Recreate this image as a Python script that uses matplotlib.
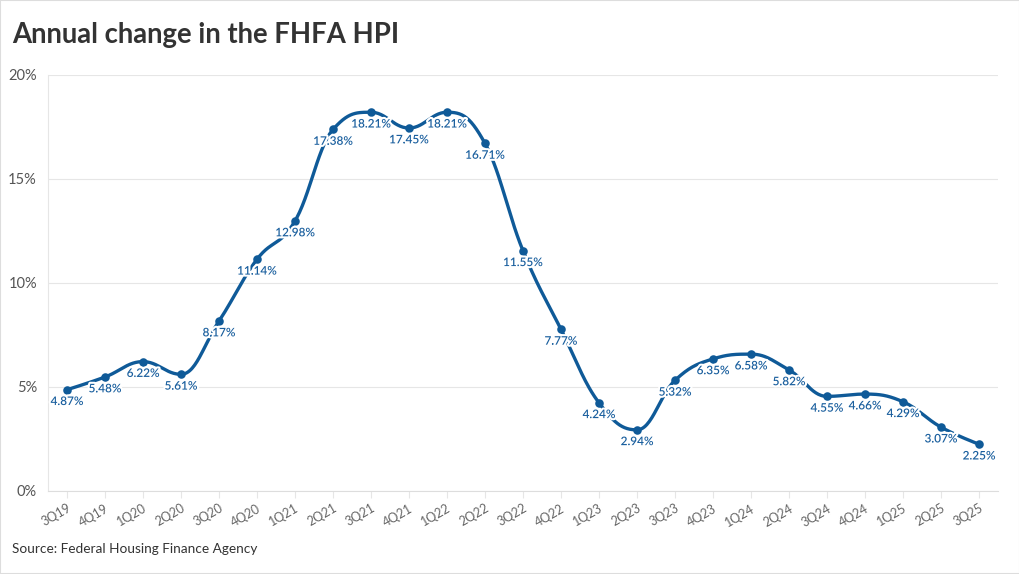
import matplotlib.pyplot as plt
import matplotlib.patheffects as pe
import numpy as np
from matplotlib.patches import Rectangle

quarters = ["3Q19", "4Q19", "1Q20", "2Q20", "3Q20", "4Q20", "1Q21", "2Q21", "3Q21",
            "4Q21", "1Q22", "2Q22", "3Q22", "4Q22", "1Q23", "2Q23", "3Q23", "4Q23",
            "1Q24", "2Q24", "3Q24", "4Q24", "1Q25", "2Q25", "3Q25"]
hpi_change = [4.87, 5.48, 6.22, 5.61, 8.17, 11.14, 12.98, 17.38, 18.21, 17.45, 18.21,
              16.71, 11.55, 7.77, 4.24, 2.94, 5.32, 6.35, 6.58, 5.82, 4.55, 4.66,
              4.29, 3.07, 2.25]
y_ticks = [0, 5, 10, 15, 20]

BLUE = "#0f5a98"
LABEL_BLUE = "#1a5f9e"
GRID = "#e6e6e6"
TEXT = "#333333"

plt.rcParams["font.family"] = ["Lato", "DejaVu Sans"]


def spline_path(xs, ys, smoothing=1.5, n=30):
    # bezier spline with control points like the usual web chart "spline" type
    denom = smoothing + 1
    m = len(xs)
    left = [None] * m
    right = [None] * m
    for i in range(m):
        px, py = xs[i], ys[i]
        if i == 0 or i == m - 1:
            left[i] = (px, py)
            right[i] = (px, py)
            continue
        lx, ly = xs[i - 1], ys[i - 1]
        nx, ny = xs[i + 1], ys[i + 1]
        lcx = (smoothing * px + lx) / denom
        lcy = (smoothing * py + ly) / denom
        rcx = (smoothing * px + nx) / denom
        rcy = (smoothing * py + ny) / denom
        if rcx != lcx:
            corr = (rcy - lcy) * (rcx - px) / (rcx - lcx) + py - rcy
            lcy += corr
            rcy += corr
        if lcy > ly and lcy > py:
            lcy = max(ly, py)
            rcy = 2 * py - lcy
        elif lcy < ly and lcy < py:
            lcy = min(ly, py)
            rcy = 2 * py - lcy
        if rcy > ny and rcy > py:
            rcy = max(ny, py)
            lcy = 2 * py - rcy
        elif rcy < ny and rcy < py:
            rcy = min(ny, py)
            lcy = 2 * py - rcy
        left[i] = (lcx, lcy)
        right[i] = (rcx, rcy)
    out_x, out_y = [], []
    t = np.linspace(0, 1, n)
    for i in range(m - 1):
        p0 = np.array([xs[i], ys[i]])
        p1 = np.array(right[i])
        p2 = np.array(left[i + 1])
        p3 = np.array([xs[i + 1], ys[i + 1]])
        seg = ((1 - t) ** 3)[:, None] * p0 + (3 * (1 - t) ** 2 * t)[:, None] * p1 \
            + (3 * (1 - t) * t ** 2)[:, None] * p2 + (t ** 3)[:, None] * p3
        out_x.extend(seg[:, 0])
        out_y.extend(seg[:, 1])
    return out_x, out_y


fig = plt.figure(figsize=(10.2, 5.74), dpi=100)
ax = fig.add_axes([48 / 1020, 83 / 574, 950 / 1020, 416 / 574])

x = np.arange(len(quarters))
sx, sy = spline_path(list(x), hpi_change)
ax.plot(sx, sy, color=BLUE, linewidth=2.4, solid_capstyle="round", zorder=3)
ax.scatter(x, hpi_change, s=38, color=BLUE, zorder=4, linewidths=0)

halo = [pe.withStroke(linewidth=3, foreground="white")]
for xi, v in zip(x, hpi_change):
    ax.annotate(f"{v:.2f}%", (xi, v), xytext=(0, -8.5), textcoords="offset points",
                ha="center", va="center", fontsize=8.5, color=LABEL_BLUE,
                fontweight="semibold", zorder=5, path_effects=halo)

ax.set_xlim(-0.5, len(quarters) - 0.5)
ax.set_ylim(0, 20)
ax.set_yticks(y_ticks)
ax.set_yticklabels([f"{t}%" for t in y_ticks])
ax.set_xticks(x)
ax.set_xticklabels(quarters, rotation=30, ha="right", rotation_mode="anchor")

ax.grid(axis="y", color=GRID, linewidth=0.8)
ax.set_axisbelow(True)
for s in ["top", "right"]:
    ax.spines[s].set_visible(False)
ax.spines["left"].set_color(GRID)
ax.spines["bottom"].set_color("#dddddd")
ax.tick_params(axis="y", length=0, labelsize=10.5, labelcolor="#555555", pad=8)
ax.tick_params(axis="x", length=5, color="#e6e6e6", labelsize=9, labelcolor="#666666", pad=3)

fig.text(12 / 1020, 1 - 35 / 574, "Annual change in the FHFA HPI", fontsize=19.8,
         fontweight="bold", color=TEXT, va="center", ha="left")
fig.text(12 / 1020, 1 - 549 / 574, "Source: Federal Housing Finance Agency", fontsize=9.8,
         color=TEXT, va="center", ha="left")

fig.patches.append(Rectangle((0, 0), 1, 1, transform=fig.transFigure, fill=False,
                             edgecolor="#dddddd", linewidth=1.5))

fig.savefig("out.png", dpi=100)
